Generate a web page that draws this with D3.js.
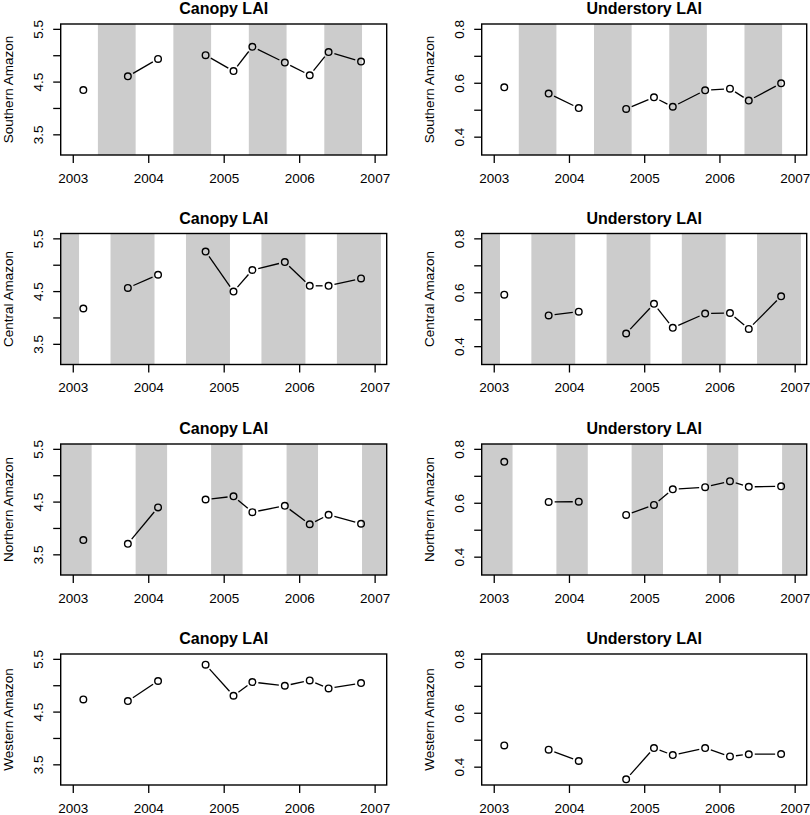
<!DOCTYPE html>
<html>
<head>
<meta charset="utf-8">
<script src="https://cdn.jsdelivr.net/npm/d3@7"></script>
<style>
  body { margin: 0; background: #fff; }
  svg { display: block; font-family: "Liberation Sans", Arial, Helvetica, sans-serif; }
</style>
</head>
<body>
<svg id="chart" width="810" height="815"></svg>
<script>
// sampling dates (decimal years), same for every panel
var years = [2003.14, 2003.73, 2004.13, 2004.76, 2005.13, 2005.38, 2005.81, 2006.14, 2006.39, 2006.82];
// points in the same group are joined by a line
var segGroup = [0, 1, 1, 2, 2, 2, 2, 2, 2, 2];

var regions = ["Southern Amazon", "Central Amazon", "Northern Amazon", "Western Amazon"];

var canopySouth   = [4.34, 4.60, 4.93, 5.00, 4.70, 5.16, 4.86, 4.62, 5.06, 4.88];
var canopyCentral = [4.17, 4.56, 4.81, 5.25, 4.49, 4.90, 5.05, 4.60, 4.60, 4.74];
var canopyNorth   = [3.77, 3.70, 4.39, 4.54, 4.60, 4.30, 4.42, 4.07, 4.25, 4.08];
var canopyWest    = [4.73, 4.70, 5.08, 5.39, 4.80, 5.06, 4.99, 5.09, 4.94, 5.04];

var underSouth    = [0.583, 0.560, 0.506, 0.503, 0.546, 0.511, 0.572, 0.578, 0.534, 0.598];
var underCentral  = [0.591, 0.514, 0.528, 0.447, 0.557, 0.468, 0.521, 0.523, 0.464, 0.585];
var underNorth    = [0.752, 0.603, 0.604, 0.555, 0.592, 0.650, 0.658, 0.680, 0.659, 0.661];
var underWest     = [0.479, 0.463, 0.421, 0.353, 0.469, 0.443, 0.469, 0.438, 0.446, 0.447];

// shaded seasons, [start, end] in decimal years
var bandsSouth   = [[2003.333, 2003.833], [2004.333, 2004.833], [2005.333, 2005.833], [2006.333, 2006.833]];
var bandsCentral = [[2002.5, 2003.083], [2003.5, 2004.083], [2004.5, 2005.083], [2005.5, 2006.083], [2006.5, 2007.083]];
var bandsNorth   = [[2002.833, 2003.25], [2003.833, 2004.25], [2004.833, 2005.25], [2005.833, 2006.25], [2006.833, 2007.25]];
var bandsWest    = [];

var xTicks = [2003, 2004, 2005, 2006, 2007];
var canopyTicks = [3.5, 4, 4.5, 5, 5.5];
var canopyLabels = [3.5, 4.5, 5.5];
var underTicks = [0.4, 0.5, 0.6, 0.7, 0.8];
var underLabels = [0.4, 0.6, 0.8];

var canopyRows = [canopySouth, canopyCentral, canopyNorth, canopyWest];
var underRows = [underSouth, underCentral, underNorth, underWest];
var bandRows = [bandsSouth, bandsCentral, bandsNorth, bandsWest];

var svg = d3.select("#chart");
var rowTops = [24, 233.5, 444, 654];
var boxH = 131;
var cols = [
  { left: 60.7, right: 386.7, title: "Canopy LAI", ylim: [3.2, 5.5], ticks: canopyTicks, labels: canopyLabels, rows: canopyRows, fmt: d3.format(".1f") },
  { left: 481.7, right: 806.7, title: "Understory LAI", ylim: [0.35, 0.8], ticks: underTicks, labels: underLabels, rows: underRows, fmt: d3.format(".1f") }
];

function extend(lim) {
  var d = (lim[1] - lim[0]) * 0.04;
  return [lim[0] - d, lim[1] + d];
}

rowTops.forEach(function(top, r) {
  cols.forEach(function(c, ci) {
    var bottom = top + boxH;
    var x = d3.scaleLinear().domain(extend([2003, 2007])).range([c.left, c.right]);
    var y = d3.scaleLinear().domain(extend(c.ylim)).range([bottom, top]);
    var g = svg.append("g");
    var clipId = "clip" + r + "_" + ci;

    svg.append("clipPath").attr("id", clipId)
      .append("rect").attr("x", c.left).attr("y", top)
      .attr("width", c.right - c.left).attr("height", boxH);

    g.append("g").attr("clip-path", "url(#" + clipId + ")")
      .selectAll("rect").data(bandRows[r]).enter().append("rect")
        .attr("x", function(d) { return x(d[0]); })
        .attr("width", function(d) { return x(d[1]) - x(d[0]); })
        .attr("y", top).attr("height", boxH)
        .attr("fill", "#cccccc");

    // lines with gaps round the points (like R type="b")
    var pts = years.map(function(yr, i) { return { px: x(yr), py: y(c.rows[r][i]), grp: segGroup[i] }; });
    var gap = 6;
    for (var i = 0; i < pts.length - 1; i++) {
      if (pts[i].grp !== pts[i + 1].grp) continue;
      var dx = pts[i + 1].px - pts[i].px, dy = pts[i + 1].py - pts[i].py;
      var len = Math.sqrt(dx * dx + dy * dy);
      if (len <= 2 * gap) continue;
      var ux = dx / len, uy = dy / len;
      g.append("line")
        .attr("x1", pts[i].px + ux * gap).attr("y1", pts[i].py + uy * gap)
        .attr("x2", pts[i + 1].px - ux * gap).attr("y2", pts[i + 1].py - uy * gap)
        .attr("stroke", "#000").attr("stroke-width", 1.3);
    }

    g.selectAll("circle").data(pts).enter().append("circle")
      .attr("cx", function(d) { return d.px; })
      .attr("cy", function(d) { return d.py; })
      .attr("r", 3.3)
      .attr("fill", "none").attr("stroke", "#000").attr("stroke-width", 1.4);

    // x axis
    var xa = g.append("g").attr("transform", "translate(0," + bottom + ")")
      .call(d3.axisBottom(x).tickValues(xTicks).tickFormat(d3.format("d")).tickSize(8).tickPadding(10));
    xa.select(".domain").remove();
    xa.attr("font-family", null);
    xa.selectAll("line").attr("stroke-width", 1.3);
    xa.selectAll("text").attr("font-size", 13.5).attr("fill", "#000");

    // y axis
    var ya = g.append("g").attr("transform", "translate(" + c.left + ",0)")
      .call(d3.axisLeft(y).tickValues(c.ticks).tickSize(7.5)
        .tickFormat(function(d) { return c.labels.indexOf(d) >= 0 ? c.fmt(d) : ""; }));
    ya.select(".domain").remove();
    ya.attr("font-family", null);
    ya.selectAll("line").attr("stroke-width", 1.3);
    ya.selectAll("text")
      .attr("transform", "rotate(-90)")
      .attr("x", 0).attr("y", -18).attr("dy", 0)
      .attr("text-anchor", "middle")
      .attr("font-size", 13.5).attr("fill", "#000");

    // box
    g.append("rect").attr("x", c.left).attr("y", top)
      .attr("width", c.right - c.left).attr("height", boxH)
      .attr("fill", "none").attr("stroke", "#000").attr("stroke-width", 1.4);

    g.append("text")
      .attr("x", (c.left + c.right) / 2).attr("y", top - 10)
      .attr("text-anchor", "middle")
      .attr("font-size", 16).attr("font-weight", "bold")
      .text(c.title);

    g.append("text")
      .attr("transform", "translate(" + (c.left - 48) + "," + (top + boxH / 2) + ") rotate(-90)")
      .attr("text-anchor", "middle")
      .attr("font-size", 13.5)
      .text(regions[r]);
  });
});
</script>
</body>
</html>
